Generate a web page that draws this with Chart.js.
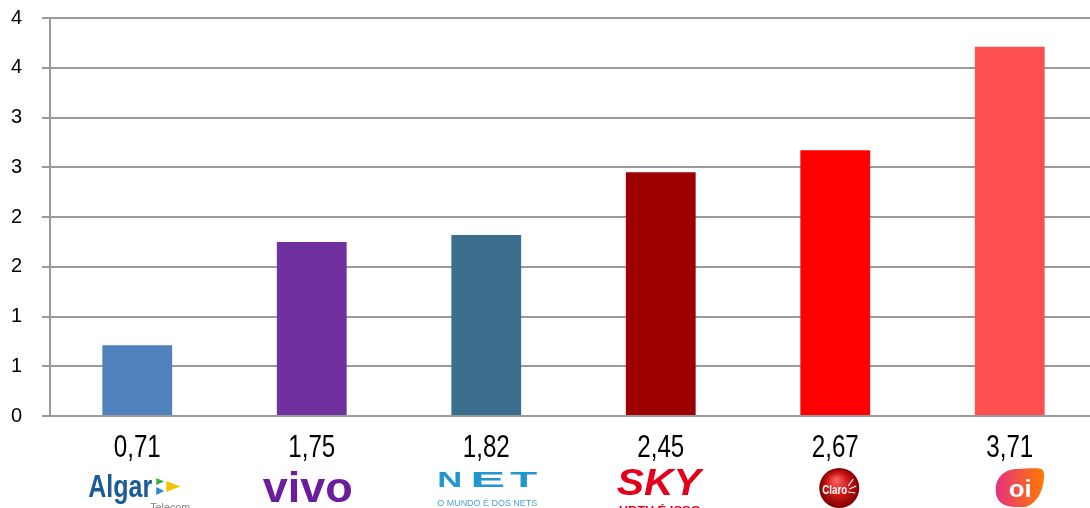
<!DOCTYPE html>
<html><head><meta charset="utf-8">
<script src="https://cdn.jsdelivr.net/npm/chart.js@4"></script>
<style>html,body{margin:0;padding:0;overflow:hidden;background:#fff;width:1090px;height:508px}canvas{display:block}</style>
</head><body><canvas id="c" width="1097" height="508"></canvas>
<script>
const categories = ["Algar Telecom", "Vivo", "NET", "SKY", "Claro", "Oi"];
const values = [0.71, 1.75, 1.82, 2.45, 2.67, 3.71];
const valueLabels = ["0,71", "1,75", "1,82", "2,45", "2,67", "3,71"];
const barColors = ["#4F81BD", "#7030A0", "#3C6E8E", "#9C0000", "#FF0000", "#FF5050"];
const yTickLabels = ["0", "1", "1", "2", "2", "3", "3", "4", "4"];

function drawFit(ctx, text, left, baseline, width) {
  const w = ctx.measureText(text).width;
  ctx.save();
  ctx.translate(left, baseline);
  ctx.scale(width / w, 1);
  ctx.textAlign = 'left';
  ctx.textBaseline = 'alphabetic';
  ctx.fillText(text, 0, 0);
  ctx.restore();
}

const logoDrawers = [
  function algar(ctx, cx) {
    ctx.fillStyle = '#1a5c96';
    ctx.font = 'bold 32px "Liberation Sans", sans-serif';
    drawFit(ctx, 'Algar', cx - 49, 497, 64);
    const tri = (pts, col) => { ctx.beginPath(); ctx.moveTo(pts[0][0], pts[0][1]); ctx.lineTo(pts[1][0], pts[1][1]); ctx.lineTo(pts[2][0], pts[2][1]); ctx.closePath(); ctx.fillStyle = col; ctx.fill(); };
    tri([[cx + 19, 478], [cx + 27, 481.5], [cx + 19, 485]], '#3fae49');
    tri([[cx + 19, 487], [cx + 27, 491], [cx + 19, 495]], '#2a8bd0');
    tri([[cx + 29, 481], [cx + 43, 486.5], [cx + 29, 492]], '#f5c400');
    ctx.fillStyle = '#808080';
    ctx.font = '11px "Liberation Sans", sans-serif';
    drawFit(ctx, 'Telecom', cx + 13, 511, 40);
  },
  function vivo(ctx, cx) {
    ctx.fillStyle = '#6b1d9c';
    ctx.font = 'bold 43px "Liberation Sans", sans-serif';
    drawFit(ctx, 'vivo', cx - 49, 502, 90);
  },
  function net(ctx, cx) {
    ctx.fillStyle = '#2196d3';
    ctx.font = 'bold 22px "Liberation Sans", sans-serif';
    drawFit(ctx, 'N', cx - 49, 487, 25);
    drawFit(ctx, 'E', cx - 16, 487, 35);
    drawFit(ctx, 'T', cx + 24, 487, 27);
    ctx.fillStyle = '#4a9fd5';
    ctx.font = '9px "Liberation Sans", sans-serif';
    drawFit(ctx, 'O MUNDO É DOS NETS', cx - 49, 506, 100);
  },
  function sky(ctx, cx) {
    ctx.fillStyle = '#e2001a';
    ctx.font = 'italic bold 37px "Liberation Sans", sans-serif';
    drawFit(ctx, 'SKY', cx - 44, 495, 84);
    ctx.font = 'bold 11px "Liberation Sans", sans-serif';
    drawFit(ctx, 'HDTV É ISSO', cx - 42, 514, 82);
  },
  function claro(ctx, cx) {
    const x = cx + 4, y = 488, r = 20;
    const g = ctx.createRadialGradient(x - 3, y - 8, 2, x, y, r);
    g.addColorStop(0, '#f45a5a');
    g.addColorStop(0.5, '#d01818');
    g.addColorStop(1, '#7d0000');
    ctx.beginPath(); ctx.arc(x, y, r, 0, Math.PI * 2); ctx.fillStyle = g; ctx.fill();
    ctx.fillStyle = '#ffffff';
    ctx.font = 'bold 12px "Liberation Sans", sans-serif';
    drawFit(ctx, 'Claro', x - 17, 494, 25);
    ctx.strokeStyle = '#ffffff'; ctx.lineWidth = 1.2;
    ctx.beginPath();
    ctx.moveTo(x + 9, y - 2); ctx.lineTo(x + 14, y - 9);
    ctx.moveTo(x + 10, y + 1); ctx.lineTo(x + 17, y - 2);
    ctx.moveTo(x + 9, y + 4); ctx.lineTo(x + 16, y + 5);
    ctx.stroke();
  },
  function oi(ctx, cx) {
    const x = cx + 10, y = 488;
    const g = ctx.createLinearGradient(x - 24, y, x + 24, y);
    g.addColorStop(0, '#e4317f');
    g.addColorStop(1, '#ff7a00');
    ctx.beginPath();
    ctx.moveTo(x - 24, y + 2);
    ctx.bezierCurveTo(x - 24, y - 12, x - 14, y - 19, x - 2, y - 19);
    ctx.bezierCurveTo(x + 8, y - 19, x + 18, y - 21, x + 23, y - 18);
    ctx.bezierCurveTo(x + 26, y - 14, x + 24, y + 6, x + 14, y + 14);
    ctx.bezierCurveTo(x + 8, y + 20, x + 4, y + 19, x - 4, y + 19);
    ctx.bezierCurveTo(x - 16, y + 19, x - 24, y + 14, x - 24, y + 2);
    ctx.closePath();
    ctx.fillStyle = g; ctx.fill();
    ctx.fillStyle = '#ffffff';
    ctx.font = 'bold 23px "Liberation Sans", sans-serif';
    drawFit(ctx, 'oi', x - 11, 497, 23);
  }
];

const labelPlugin = {
  id: 'valueLabelsAndLogos',
  afterDraw(chart) {
    const ctx = chart.ctx;
    const xs = chart.scales.x;
    ctx.save();
    categories.forEach((c, i) => {
      const cx = xs.getPixelForValue(i);
      ctx.fillStyle = '#000000';
      ctx.font = '31px "Liberation Sans", sans-serif';
      drawFit(ctx, valueLabels[i], cx - 23.5, 457, 47);
      logoDrawers[i](ctx, cx);
    });
    ctx.restore();
  }
};

new Chart(document.getElementById('c'), {
  type: 'bar',
  data: {
    labels: categories,
    datasets: [{
      data: values,
      backgroundColor: barColors,
      borderWidth: 0,
      barPercentage: 0.4,
      categoryPercentage: 1.0
    }]
  },
  options: {
    responsive: false,
    animation: false,
    devicePixelRatio: 1,
    layout: { padding: { top: 18, left: 0, right: 0, bottom: 0 } },
    plugins: { legend: { display: false }, tooltip: { enabled: false } },
    scales: {
      x: {
        grid: { display: false },
        border: { display: true, color: '#9a9a9a', width: 2 },
        ticks: { display: false },
        afterFit: (s) => { s.height = 92; }
      },
      y: {
        min: 0, max: 4,
        grid: { color: '#9a9a9a', lineWidth: 2, tickLength: 8 },
        border: { display: true, color: '#9a9a9a', width: 2 },
        ticks: {
          stepSize: 0.5,
          padding: 20,
          color: '#000000',
          font: { family: '"Liberation Sans", sans-serif', size: 20 },
          callback: (v, i) => yTickLabels[i]
        },
        afterFit: (s) => { s.width = 50; s.paddingTop = 0; s.paddingBottom = 0; }
      }
    }
  },
  plugins: [labelPlugin]
});
</script>
</body></html>
